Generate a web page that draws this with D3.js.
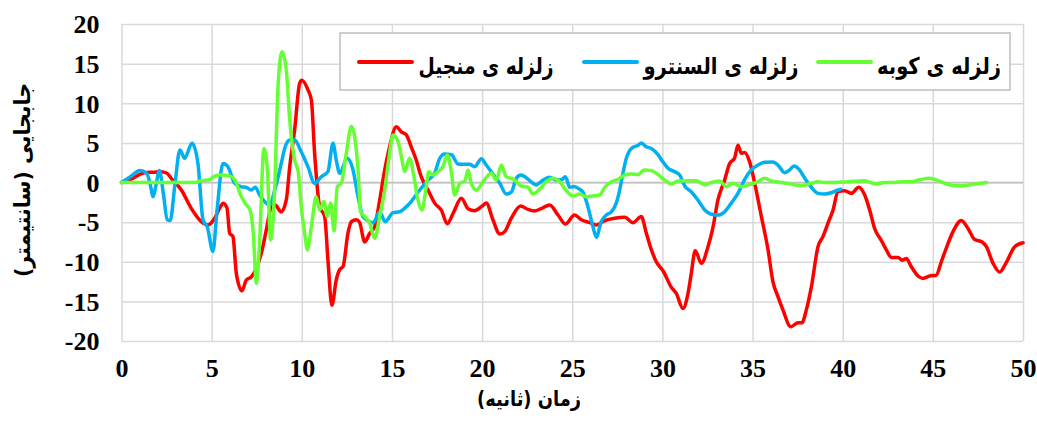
<!DOCTYPE html>
<html>
<head>
<meta charset="utf-8">
<script src="https://cdn.jsdelivr.net/npm/d3@7"></script>
<style>
  html, body { margin: 0; padding: 0; background: #ffffff; }
  svg { display: block; }
</style>
</head>
<body>
<div id="chart"></div>
<script>
// ---------- DATA ----------
const seriesNames = ["زلزله ی منجیل", "زلزله ی السنترو", "زلزله ی کوبه"];
const seriesColors = ["#ff0000", "#00b0f0", "#66ff33"];
const xTicks = [0, 5, 10, 15, 20, 25, 30, 35, 40, 45, 50];
const yTicks = [-20, -15, -10, -5, 0, 5, 10, 15, 20];
const xTitle = "زمان (ثانیه)";
const yTitle = "جابجایی (سانتیمتر)";

// Manjil (red)
const manjilTime = [0,0.5,1.29,1.8,2.19,2.5,2.76,3.32,3.87,4.43,4.8,5.17,5.5,5.63,5.85,6.0,6.18,6.37,6.68,6.92,7.2,7.48,7.76,8.03,8.31,8.5,8.86,9.14,9.33,9.6,9.88,10.0,10.34,10.53,10.71,10.99,11.27,11.45,11.67,11.91,12.1,12.29,12.56,12.75,13.02,13.2,13.49,13.77,14.04,14.32,14.6,14.87,15.24,15.52,15.8,16.07,16.35,16.63,17.0,17.37,17.74,18.07,18.39,18.85,19.22,19.59,19.96,20.23,20.6,20.98,21.25,21.62,22.14,22.55,22.9,23.28,23.75,24.21,24.62,25.13,25.5,25.97,26.34,26.8,27.35,27.91,28.37,28.83,29.11,29.39,29.66,30.05,30.49,30.77,31.14,31.42,31.6,31.82,32.16,32.53,32.81,33.08,33.45,33.73,34.0,34.19,34.38,34.56,34.84,35.12,35.49,35.86,36.13,36.41,36.69,37.12,37.52,37.74,37.98,38.26,38.63,38.91,39.18,39.46,39.74,40.11,40.48,40.89,41.22,41.5,41.77,42.14,42.42,42.7,43.07,43.3,43.53,43.8,44.18,44.45,44.82,45.19,45.47,45.84,46.12,46.58,46.95,47.32,47.73,47.97,48.34,48.71,49.07,49.54,50.0];
const manjilDisp = [0,0.4,1.24,1.3,1.37,1.2,0.53,-0.95,-3.26,-4.95,-5.37,-4.5,-3.0,-2.63,-3.2,-6.4,-6.8,-11.5,-13.66,-12.3,-11.9,-10.8,-8.9,-6.0,-3.05,-2.8,-3.7,-2.2,2.0,6.6,12.5,12.9,11.7,10.4,3.7,-3.05,-4.3,-9.8,-15.5,-12.3,-11.0,-10.6,-6.4,-4.95,-4.7,-5.0,-7.5,-6.4,-5.6,-2.2,1.6,4.5,7.05,6.4,6.0,4.5,2.8,0.7,-0.95,-2.6,-3.5,-5.2,-3.9,-2.0,-3.3,-3.55,-3.05,-2.6,-4.7,-6.5,-6.2,-4.5,-2.97,-3.4,-3.6,-3.3,-2.84,-4.1,-5.24,-4.1,-4.7,-5.07,-5.37,-4.8,-4.5,-4.4,-5.07,-4.3,-6.4,-8.5,-10.0,-11.2,-13.2,-14.0,-15.9,-14.0,-11.5,-8.6,-10.2,-8.1,-5.6,-2.2,0.3,2.4,3.05,4.7,3.7,3.8,2.6,-0.1,-4.3,-8.5,-12.5,-14.4,-16.1,-18.2,-17.7,-17.7,-16.1,-13.2,-8.1,-6.8,-5.15,-3.5,-1.16,-1.03,-1.37,-0.6,-1.58,-3.5,-5.8,-7.3,-8.5,-9.45,-9.45,-9.8,-9.6,-10.6,-11.8,-12.1,-11.8,-11.7,-10.0,-7.7,-6.2,-4.8,-5.8,-7.2,-7.5,-8.1,-10.2,-11.3,-10.1,-8.1,-7.6];

// El Centro (blue)
const centroTime = [0,0.45,1.03,1.4,1.58,1.76,1.9,2.1,2.32,2.54,2.7,2.97,3.24,3.5,3.91,4.24,4.52,4.76,5.07,5.3,5.63,5.9,6.28,6.64,6.9,7.2,7.42,7.66,7.94,8.22,8.5,8.86,9.05,9.33,9.6,9.94,10.34,10.71,11.08,11.45,11.73,11.91,12.1,12.52,12.84,13.12,13.39,13.77,13.95,14.32,14.63,15.06,15.43,15.7,16.07,16.54,17.0,17.37,17.65,17.93,18.3,18.66,18.94,19.3,19.59,19.96,20.23,20.6,20.98,21.34,21.62,21.9,22.14,22.4,22.64,23.0,23.38,23.75,24.12,24.4,24.62,24.86,25.1,25.41,25.59,25.87,26.15,26.33,26.61,26.89,27.17,27.44,27.63,27.81,28.0,28.28,28.65,28.83,29.1,29.39,29.76,30.03,30.31,30.68,30.96,31.24,31.6,31.97,32.35,32.71,33.08,33.45,33.82,34.19,34.6,34.93,35.3,35.67,36.13,36.41,36.78,37.06,37.3,37.6,37.9,38.26,38.63,39.0,39.37,39.74,39.89];
const centroDisp = [0,0.65,1.5,1.16,-0.1,-1.8,-0.5,1.5,-1.37,-4.7,-4.8,-0.1,4.1,3.05,4.95,2.4,-4.7,-5.6,-8.7,-3.5,2.4,2.0,-0.1,-0.53,-0.6,-0.95,-0.6,-1.58,-2.4,-2.84,-0.95,2.4,4.3,5.37,5.4,4.0,2.0,-0.1,0.73,1.37,4.95,2.84,1.16,3.05,1.58,-1.8,-4.3,-4.95,-5.1,-3.7,-4.95,-3.8,-3.7,-3.26,-2.4,-0.95,0.3,1.16,3.05,3.6,3.5,2.34,2.3,2.3,2.0,3.0,2.2,1.07,-0.1,-1.45,-1.2,0.53,0.95,0.7,0.23,-0.3,0.3,0.65,0.3,0.35,0.73,-0.6,-0.5,-0.86,-1.2,-3.05,-5.6,-6.9,-4.95,-4.1,-3.7,-2.6,-0.95,1.16,3.05,4.3,4.7,5.0,4.5,4.3,3.5,2.6,1.8,1.37,0.95,-0.44,-1.16,-2.2,-3.47,-4.0,-4.1,-3.7,-2.6,-1.37,0.53,1.58,2.2,2.55,2.6,2.2,1.24,1.6,2.08,1.6,0.53,-0.6,-1.37,-1.45,-1.3,-0.95,-0.86];

// Kobe (green)
const kobeTime = [0,4.06,4.43,4.9,5.17,5.46,6.02,6.3,6.57,6.85,7.13,7.31,7.48,7.65,7.9,8.09,8.27,8.5,8.68,8.9,9.14,9.33,9.6,9.8,9.97,10.16,10.31,10.53,10.8,10.99,11.23,11.41,11.6,11.79,11.97,12.19,12.47,12.75,12.93,13.12,13.26,13.49,13.77,14.04,14.32,14.6,14.82,15.06,15.34,15.56,15.7,15.98,16.22,16.44,16.67,16.85,17.04,17.28,17.55,17.83,18.07,18.29,18.48,18.76,19.04,19.22,19.4,19.68,20.05,20.51,20.79,21.07,21.34,21.72,22.17,22.55,22.82,23.19,23.56,23.93,24.3,24.67,25.04,25.41,25.78,26.15,26.52,26.8,27.17,27.54,27.91,28.28,28.65,28.98,29.39,29.76,30.13,30.49,30.86,31.42,31.88,32.35,32.71,33.17,33.54,33.91,34.38,34.75,35.21,35.67,36.04,36.6,37.15,37.7,38.26,38.63,39.0,39.55,40.29,41.22,41.86,42.33,42.88,43.35,43.8,44.27,44.82,45.1,45.66,46.21,46.67,47.32,47.97];
const kobeDisp = [0,0,0.23,0.4,0.8,0.95,0.8,0.3,-1.37,-2.6,-3.47,-6.4,-12.7,-8.0,4.3,1.58,-7.26,-0.5,12.1,16.5,14.2,7.9,2.84,1.37,-3.05,-6.4,-8.5,-5.6,-1.8,-3.47,-2.4,-4.3,-2.6,-6.1,-0.5,-0.1,3.7,7.1,5.8,1.58,-3.7,-4.3,-5.15,-7.05,-4.3,-0.95,2.84,6.0,5.15,2.84,1.37,3.05,0.73,-2.2,-3.47,-1.37,1.37,0.95,1.37,2.0,3.47,1.37,-1.58,-0.1,0.2,1.58,-0.1,-0.95,0.1,1.16,0.3,2.2,0.73,0.45,-0.44,-0.6,-1.45,-0.86,0.1,0.53,0.1,-1.03,-1.7,-1.45,-1.8,-1.7,-1.58,-0.6,0.1,0.4,0.95,1.07,1.0,1.58,1.5,1.0,0.3,-0.2,0.2,0.23,0.23,-0.3,0.0,0.2,-0.53,-0.1,-0.53,-0.3,0.0,0.53,0.2,0.0,-0.2,-0.4,-0.1,0.1,0.0,0.0,0.1,0.23,-0.2,0.0,0.0,0.1,0.1,0.35,0.53,0.4,-0.1,-0.4,-0.4,-0.2,0.0];

// ---------- CHART ----------
const W = 1037, H = 422;
const svg = d3.select("#chart").append("svg").attr("width", W).attr("height", H);
svg.append("rect").attr("width", W).attr("height", H).attr("fill", "#ffffff");

const x = d3.scaleLinear().domain([0, 50]).range([121.5, 1023]);
const y = d3.scaleLinear().domain([-20, 20]).range([341, 24]);
const plotW = x.range()[1] - x.range()[0];
const plotH = y.range()[0] - y.range()[1];

const serif = "'Liberation Serif', 'Times New Roman', serif";
const arabic = "'DejaVu Sans', sans-serif";
const fmt = d => String(d);   // plain hyphen-minus like the reference

// Y axis with gridlines
const gy = svg.append("g").attr("transform", `translate(${x(0)},0)`)
  .call(d3.axisLeft(y).tickValues(yTicks).tickSize(-plotW).tickPadding(22).tickFormat(fmt));
gy.select(".domain").remove();
gy.selectAll(".tick line").attr("stroke", "#d9d9d9").attr("stroke-width", 1.5);
gy.selectAll(".tick text").attr("font-family", serif).attr("font-weight", "bold")
  .attr("font-size", 26).attr("fill", "#000").attr("dy", "0.34em");

// X axis with gridlines
const gx = svg.append("g").attr("transform", `translate(0,${y(-20)})`)
  .call(d3.axisBottom(x).tickValues(xTicks).tickSize(-plotH).tickPadding(18).tickFormat(fmt));
gx.select(".domain").remove();
gx.selectAll(".tick line").attr("stroke", "#d9d9d9").attr("stroke-width", 1.5);
gx.selectAll(".tick text").attr("font-family", serif).attr("font-weight", "bold")
  .attr("font-size", 26).attr("fill", "#000");

// Zero line slightly darker
svg.append("line").attr("x1", x(0)).attr("x2", x(50)).attr("y1", y(0)).attr("y2", y(0))
  .attr("stroke", "#bfbfbf").attr("stroke-width", 1.5);

// Series
const series = [
  { t: manjilTime, v: manjilDisp },
  { t: centroTime, v: centroDisp },
  { t: kobeTime, v: kobeDisp }
];
const line = d3.line().x(d => x(d[0])).y(d => y(d[1])).curve(d3.curveMonotoneX);
series.forEach((s, i) => {
  const pts = s.t.map((t, k) => [t, s.v[k]]);
  svg.append("path").datum(pts).attr("d", line)
    .attr("fill", "none").attr("stroke", seriesColors[i]).attr("stroke-width", 3.5)
    .attr("stroke-linejoin", "round").attr("stroke-linecap", "round");
});

// Legend
const lg = svg.append("g");
lg.append("rect").attr("x", 340).attr("y", 33).attr("width", 670).attr("height", 57)
  .attr("fill", "#ffffff").attr("stroke", "#bfbfbf").attr("stroke-width", 1.5);
const legendLineX = [359, 584, 818];
const legendTextX = [486, 721, 939];
const legendTextW = [135, 155, 124];
seriesNames.forEach((name, i) => {
  lg.append("line").attr("x1", legendLineX[i]).attr("x2", legendLineX[i] + 53)
    .attr("y1", 62).attr("y2", 62).attr("stroke", seriesColors[i]).attr("stroke-width", 4)
    .attr("stroke-linecap", "round");
  lg.append("text").attr("x", legendTextX[i]).attr("y", 66).attr("dy", "0.35em")
    .attr("text-anchor", "middle").attr("font-family", arabic).attr("font-weight", "bold")
    .attr("font-size", 23).attr("fill", "#000")
    .attr("textLength", legendTextW[i]).attr("lengthAdjust", "spacingAndGlyphs")
    .text(name);
});

// Axis titles
svg.append("text").attr("x", 529).attr("y", 399).attr("dy", "0.35em").attr("text-anchor", "middle")
  .attr("font-family", arabic).attr("font-weight", "bold").attr("font-size", 21).attr("fill", "#000")
  .attr("textLength", 104).attr("lengthAdjust", "spacingAndGlyphs")
  .text(xTitle);
svg.append("text").attr("transform", "translate(22,180) rotate(-90)").attr("dy", "0.35em")
  .attr("text-anchor", "middle").attr("font-family", arabic).attr("font-weight", "bold")
  .attr("font-size", 22).attr("fill", "#000")
  .attr("textLength", 194).attr("lengthAdjust", "spacingAndGlyphs")
  .text(yTitle);
</script>
</body>
</html>
